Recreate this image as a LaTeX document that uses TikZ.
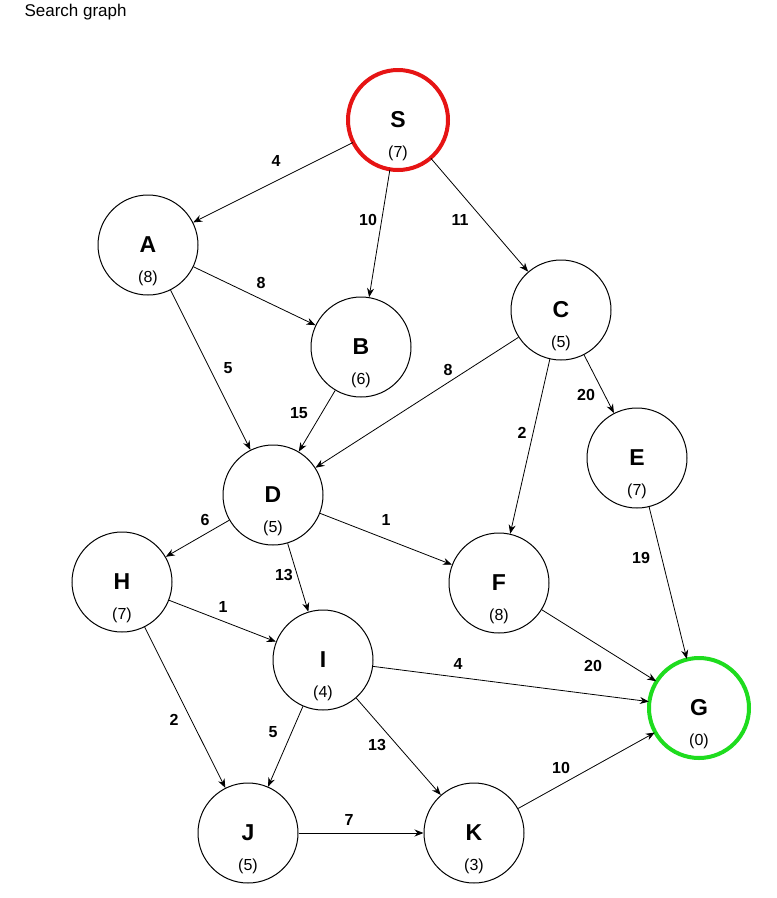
\documentclass[tikz,border=0pt]{standalone}
\usepackage{fontspec}
\setmainfont{Liberation Sans}
\usetikzlibrary{arrows.meta}
\definecolor{sred}{RGB}{230,20,20}
\definecolor{sgreen}{RGB}{30,220,30}
\begin{document}
\begin{tikzpicture}[x=1pt,y=-1pt,
  st/.style={circle,draw,line width=1pt,minimum size=100pt,inner sep=0pt},
  ltr/.style={font=\fontsize{23}{26}\selectfont\bfseries},
  val/.style={font=\fontsize{16}{18}\selectfont},
  el/.style={font=\fontsize{16}{18}\selectfont\bfseries},
  ar/.style={-{Stealth[length=9pt,width=7pt]},line width=0.8pt}]
\useasboundingbox (0,0) rectangle (777,898);
\fill[white] (0,0) rectangle (777,898);
\node[anchor=west,font=\fontsize{17}{19}\selectfont] (title) at (21,12) {Search graph};
\foreach \n/\x/\y/\v in {S/398/120/7,A/148/245/8,B/361/347/6,C/561/310/5,D/273/495/5,E/637/458/7,H/122/582/7,F/499/583/8,I/323/660/4,G/699/708/0,J/248/833/5,K/474/833/3}{
  \node[st] (\n) at (\x,\y) {};
  \node[ltr] (\n l) at (\x,\y) {\n};
  \node[val] (\n v) at (\x,\y+33) {(\v)};
}
\draw[sred,line width=4pt] (S) circle (50);
\draw[sgreen,line width=4pt] (G) circle (50);
\draw[ar] (S) -- (A); \node[el] (l1) at (276,161) {4};
\draw[ar] (S) -- (B); \node[el] (l2) at (368,220) {10};
\draw[ar] (S) -- (C); \node[el] (l3) at (460,220) {11};
\draw[ar] (A) -- (B); \node[el] (l4) at (261,283) {8};
\draw[ar] (A) -- (D); \node[el] (l5) at (228,368) {5};
\draw[ar] (B) -- (D); \node[el] (l6) at (299,413) {15};
\draw[ar] (C) -- (D); \node[el] (l7) at (448,370) {8};
\draw[ar] (C) -- (F); \node[el] (l8) at (522,433) {2};
\draw[ar] (C) -- (E); \node[el] (l9) at (586,395) {20};
\draw[ar] (E) -- (G); \node[el] (l10) at (641,558) {19};
\draw[ar] (D) -- (H); \node[el] (l11) at (205,520) {6};
\draw[ar] (D) -- (F); \node[el] (l12) at (386,520) {1};
\draw[ar] (D) -- (I); \node[el] (l13) at (284,575) {13};
\draw[ar] (H) -- (I); \node[el] (l14) at (223,607) {1};
\draw[ar] (H) -- (J); \node[el] (l15) at (174,720) {2};
\draw[ar] (F) -- (G); \node[el] (l16) at (593,666) {20};
\draw[ar] (I) -- (G); \node[el] (l17) at (458,664) {4};
\draw[ar] (I) -- (J); \node[el] (l18) at (273,732) {5};
\draw[ar] (I) -- (K); \node[el] (l19) at (377,745) {13};
\draw[ar] (J) -- (K); \node[el] (l20) at (349,820) {7};
\draw[ar] (K) -- (G); \node[el] (l21) at (561,768) {10};
\end{tikzpicture}
\end{document}
